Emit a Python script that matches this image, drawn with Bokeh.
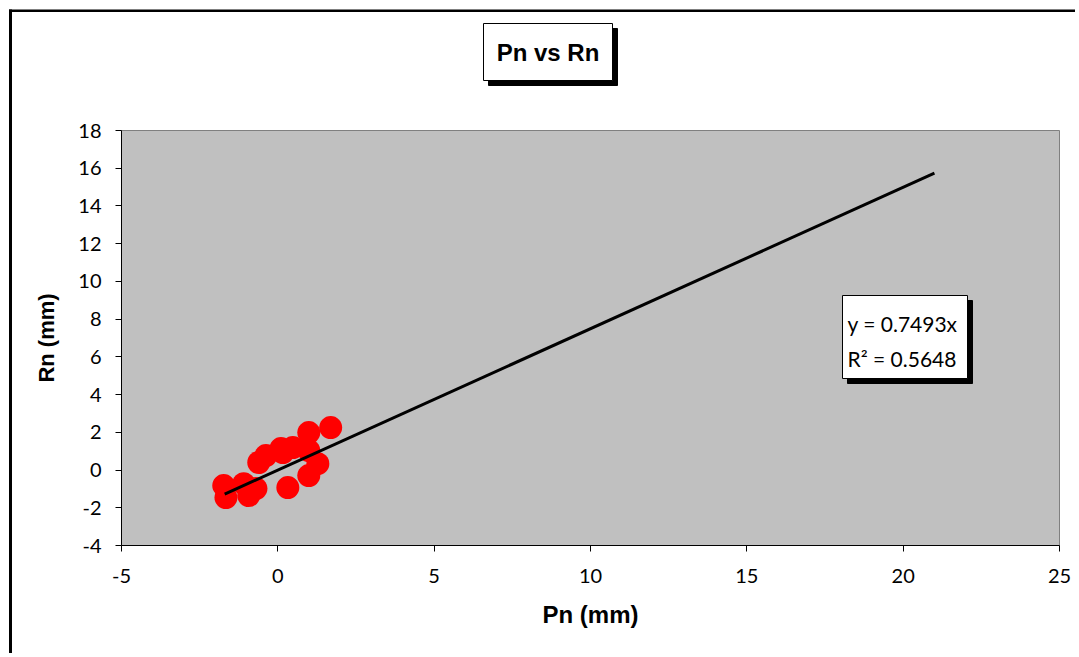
from bokeh.plotting import figure
from bokeh.models import BoxAnnotation, Label, Range1d, FixedTicker
from bokeh.embed import file_html
from bokeh.resources import INLINE

# ---- data ----
pn = [-1.73, -1.66, -1.09, -0.93, -0.70, -0.61, -0.38, 0.10, 0.16, 0.48,
      0.99, 1.28, 0.99, 0.32, 0.99, 1.69]
rn = [-0.82, -1.46, -0.72, -1.35, -0.98, 0.40, 0.77, 1.14, 0.93, 1.19,
      1.03, 0.34, -0.29, -0.93, 1.99, 2.25]
slope = 0.7493
r2 = 0.5648
trend_x = [-1.7, 21.0]
trend_y = [slope * v for v in trend_x]
x_ticks = [-5, 0, 5, 10, 15, 20, 25]
y_ticks = [-4, -2, 0, 2, 4, 6, 8, 10, 12, 14, 16, 18]
x_min, x_max = -5, 25
y_min, y_max = -4, 18

# ---- layout geometry (canvas pixels) ----
W, H = 1075, 653
PL, PR, PT, PB = 121, 1059, 130, 545          # plot-area edges
sx = (PR - PL) / (x_max - x_min)
sy = (PB - PT) / (y_max - y_min)


def X(c):
    return x_min + (c - PL) / sx


def Y(c):
    return y_max - (c - PT) / sy


p = figure(width=W, height=H, output_backend="svg", toolbar_location=None,
           x_range=Range1d(X(0), X(W)), y_range=Range1d(Y(H), Y(0)),
           min_border=0)
p.background_fill_color = "white"
p.border_fill_color = "white"
p.outline_line_color = None
p.xgrid.visible = False
p.ygrid.visible = False

# grey plot area
p.add_layout(BoxAnnotation(left=x_min, right=x_max, bottom=y_min, top=y_max,
                           fill_color="#C0C0C0", fill_alpha=1,
                           line_color="#808080", line_alpha=1, line_width=1,
                           level="underlay"))

p.scatter(pn, rn, size=23, color="#FF0000", line_color=None)
p.line(trend_x, trend_y, line_color="black", line_width=3)

for ax in (p.xaxis[0], p.yaxis[0]):
    ax.axis_line_color = "black"
    ax.major_tick_line_color = "black"
    ax.minor_tick_line_color = None
    ax.major_tick_out = 6
    ax.major_tick_in = 0
    ax.major_label_text_font = "Lato"
    ax.major_label_text_font_size = "20px"
    ax.major_label_text_color = "black"
    ax.axis_label_text_font = "Liberation Sans"
    ax.axis_label_text_font_style = "bold"
    ax.axis_label_text_color = "black"

p.xaxis[0].axis_label_text_font_size = "24px"
p.yaxis[0].axis_label_text_font_size = "22px"
p.xaxis[0].fixed_location = y_min
p.yaxis[0].fixed_location = x_min
p.xaxis[0].bounds = (x_min, x_max)
p.yaxis[0].bounds = (y_min, y_max)
p.xaxis[0].ticker = FixedTicker(ticks=x_ticks)
p.yaxis[0].ticker = FixedTicker(ticks=y_ticks)
p.xaxis[0].major_label_overrides = {t: str(t) for t in x_ticks}
p.yaxis[0].major_label_overrides = {t: str(t) for t in y_ticks}
p.xaxis[0].axis_label = "Pn (mm)"
p.yaxis[0].axis_label = "Rn (mm)"
p.xaxis[0].major_label_standoff = 17
p.yaxis[0].major_label_standoff = 14
p.xaxis[0].axis_label_standoff = 15
p.yaxis[0].axis_label_standoff = 16

# outer chart border (left and top edges)
p.add_layout(BoxAnnotation(left=X(8.5), right=X(11.5), top=Y(9), bottom=Y(H + 50),
                           fill_color="black", fill_alpha=1, line_alpha=0))
p.add_layout(BoxAnnotation(left=X(8.5), right=X(W + 50), top=Y(9), bottom=Y(11.5),
                           fill_color="black", fill_alpha=1, line_alpha=0))

# title box with shadow
p.add_layout(BoxAnnotation(left=X(488), right=X(617), top=Y(28), bottom=Y(85),
                           fill_color="black", fill_alpha=1, line_color="black",
                           line_alpha=1))
p.add_layout(BoxAnnotation(left=X(483), right=X(612), top=Y(23), bottom=Y(80),
                           fill_color="white", fill_alpha=1, line_color="black",
                           line_alpha=1, line_width=1))
p.add_layout(Label(x=X(547.5), y=Y(51.5), text="Pn vs Rn", text_align="center",
                   text_baseline="middle", text_font="Liberation Sans",
                   text_font_style="bold", text_font_size="24px",
                   text_color="black"))

# equation box with shadow
p.add_layout(BoxAnnotation(left=X(847), right=X(972), top=Y(300), bottom=Y(383),
                           fill_color="black", fill_alpha=1, line_color="black",
                           line_alpha=1))
p.add_layout(BoxAnnotation(left=X(842), right=X(967), top=Y(295), bottom=Y(378),
                           fill_color="white", fill_alpha=1, line_color="black",
                           line_alpha=1, line_width=1))
p.add_layout(Label(x=X(847), y=Y(323), text="y = %.4fx" % slope, text_align="left",
                   text_baseline="middle", text_font="Lato",
                   text_font_size="21px", text_color="black"))
p.add_layout(Label(x=X(847), y=Y(358), text="R\u00b2 = %.4f" % r2, text_align="left",
                   text_baseline="middle", text_font="Lato",
                   text_font_size="21px", text_color="black"))

open("out.html", "w").write(file_html(p, INLINE))
